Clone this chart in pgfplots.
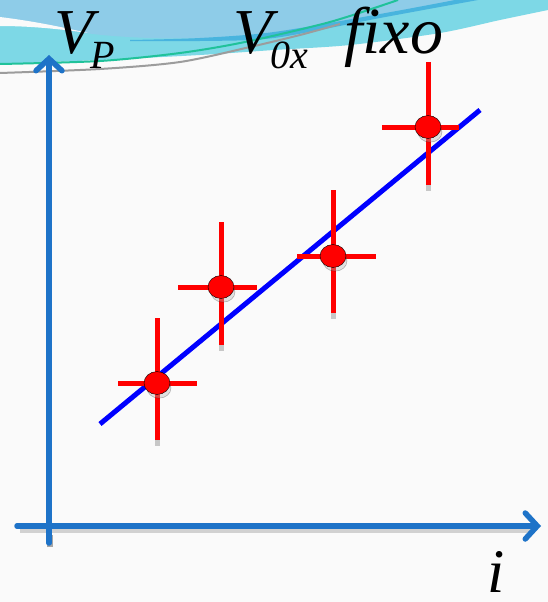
\documentclass[border=0pt]{standalone}
\usepackage{pgfplots}
\usepackage{pgfplotstable}
\pgfplotsset{compat=1.18}
\usepackage{fontspec}
\setmainfont{Liberation Serif}
\usetikzlibrary{arrows.meta}

\definecolor{bgpaper}{RGB}{250,250,250}
\definecolor{axisblue}{RGB}{30,115,200}
\definecolor{swcyan}{RGB}{125,216,230}
\definecolor{swlight}{RGB}{142,204,232}
\definecolor{swdark}{RGB}{72,180,222}
\definecolor{swgreen}{RGB}{32,194,154}
\definecolor{swgray}{RGB}{156,156,156}

% measured points (x, y measured downward) with asymmetric uncertainties
\pgfplotstableread{
x   y   exp exm eyp eym
157 383 40  39  57  65
221 287 36  43  58  65
333 256 43  36  57  66
428 127 31  46  58  65
}\meas

\begin{document}
\begin{tikzpicture}
\begin{axis}[
  name=ax,
  hide axis,
  scale only axis,
  width=548pt, height=602pt,
  xmin=0, xmax=548, ymin=0, ymax=602,
  y dir=reverse,
  clip=false,
]
% paper background
\fill[bgpaper] (0,0) rectangle (548,602);

% header swoosh
\fill[swcyan] (0,0) -- plot[smooth] coordinates {(0,64) (100,60) (200,55) (274,50) (350,45) (440,33) (500,20) (548,10)} -- (548,0) -- cycle;
\fill[swlight] (0,0) -- plot[smooth] coordinates {(0,17) (85,33) (150,38) (220,38) (274,34) (350,20) (420,8) (470,0)} -- cycle;
\fill[bgpaper] (0,17) .. controls (40,22) and (70,29) .. (88,33) .. controls (60,29) and (30,26) .. (0,26) -- cycle;
\fill[swdark] plot[smooth] coordinates {(130,40) (200,38) (274,32) (380,14) (455,0)} -- plot[smooth] coordinates {(478,0) (380,18) (274,38) (200,41) (130,41)} -- cycle;
\draw[swgray, line width=2pt] plot[smooth] coordinates {(0,73) (100,69) (180,62) (250,47) (300,35) (340,24)};
\draw[swgreen, line width=2pt] plot[smooth] coordinates {(0,64) (100,61) (180,53) (245,42) (330,22) (398,0)};

% axis arrows with their shadows
\draw[black!35, line width=5.5pt] (50,547) -- (50,535);
\draw[black!18, line width=5pt] (20,530) -- (535,530);
\draw[axisblue, line width=5.5pt, line cap=round, -{Straight Barb[length=12pt, width=26pt, line cap=round]}] (17,526) -- (541,526);
\draw[axisblue, line width=5.5pt, line cap=round, -{Straight Barb[length=12pt, width=26pt, line cap=round]}] (49,543) -- (49,55);

% fitted line
\addplot[blue, line width=5pt] coordinates {(100,424) (480,110)};

% shadows of the bars and dots
\addplot[only marks, mark=none, forget plot,
  error bars/.cd, y dir=plus, y explicit,
  error mark=none, error bar style={line width=5pt, black!22}]
  table[x=x, y=y, y error expr=\thisrow{eyp}+6] {\meas};
\addplot[only marks, mark=*, mark size=12pt, forget plot,
  mark options={fill=black!30, draw=none, opacity=0.35, yscale=0.85}]
  table[x expr=\thisrow{x}+2, y expr=\thisrow{y}+5] {\meas};

% measured points with uncertainties
\addplot[only marks, mark=*, mark size=13pt,
  mark options={fill=red, draw=none, yscale=0.88},
  error bars/.cd,
    x dir=both, x explicit, y dir=both, y explicit,
    error mark=none, error bar style={line width=5pt, red}]
  table[x=x, y=y, x error plus=exp, x error minus=exm,
        y error plus=eyp, y error minus=eym] {\meas};

% labels
\node[anchor=base west, inner sep=0pt, font=\fontsize{64}{64}\selectfont\itshape] at (54,53) {V};
\node[anchor=base west, inner sep=0pt, font=\fontsize{40}{40}\selectfont\itshape] at (90,68) {P};
\node[anchor=base west, inner sep=0pt, font=\fontsize{64}{64}\selectfont\itshape] at (233,53) {V};
\node[anchor=base west, inner sep=0pt, font=\fontsize{40}{40}\selectfont\itshape] at (270,68) {0x};
\node[anchor=base west, inner sep=0pt, font=\fontsize{66}{66}\selectfont\itshape] at (344,53) {fixo};
\node[anchor=base west, inner sep=0pt, font=\fontsize{62}{62}\selectfont\itshape] at (487,592) {i};
\end{axis}
\pgfresetboundingbox
\path (ax.south west) rectangle (ax.north east);
\end{tikzpicture}
\end{document}
